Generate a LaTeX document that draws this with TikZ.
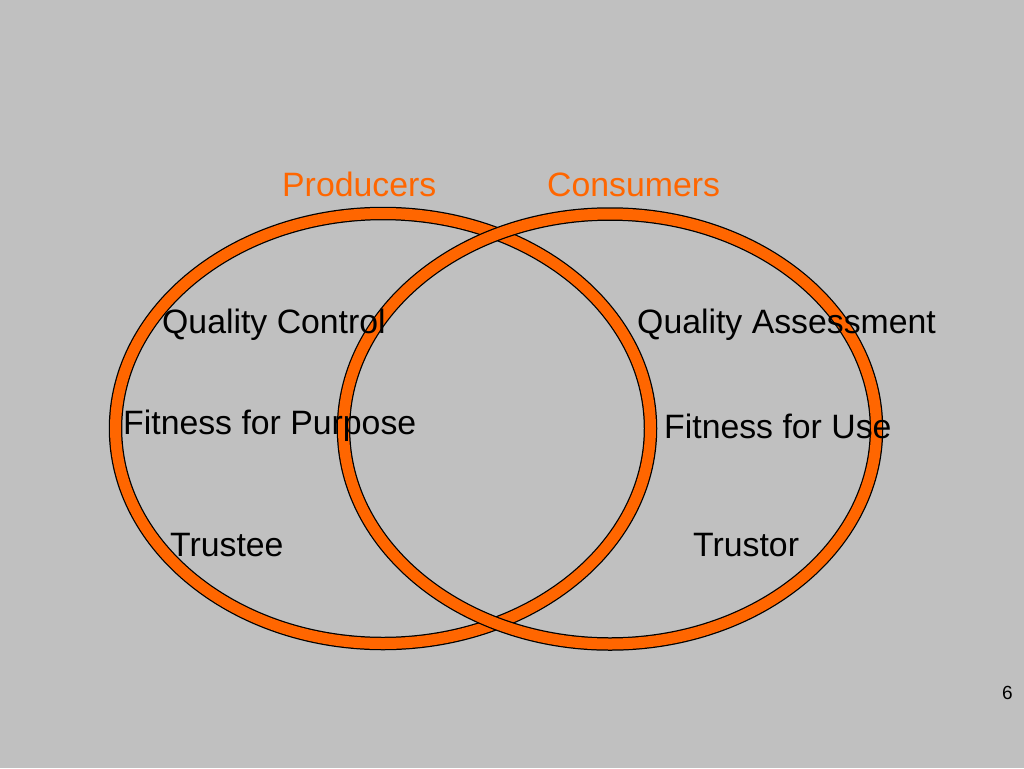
\documentclass[tikz,border=0pt]{standalone}
\usepackage{fontspec}
\setmainfont{Liberation Sans}
\definecolor{bg}{HTML}{C0C0C0}
\definecolor{ring}{HTML}{FF6600}
\begin{document}
\begin{tikzpicture}[x=1pt,y=-1pt,
  lbl/.style={anchor=base west,inner sep=0pt,font=\fontsize{33.8}{40}\selectfont},
  head/.style={lbl,text=ring},
  ringback/.style={draw=black,line width=13.5pt},
  ringfront/.style={draw=ring,line width=11pt}]
\fill[bg] (0,0) rectangle (1024,768);
\useasboundingbox (0,0) rectangle (1024,768);
% ellipse centres
\coordinate (cl) at (383,428.5);
\coordinate (cr) at (610,429);
\draw[ringback] (cl) ellipse [x radius=267.5pt, y radius=215pt];
\draw[ringfront] (cl) ellipse [x radius=267.5pt, y radius=215pt];
\draw[ringback] (cr) ellipse [x radius=266.5pt, y radius=215pt];
\draw[ringfront] (cr) ellipse [x radius=266.5pt, y radius=215pt];
% labels
\node[head] (prod) at (282,196) {Producers};
\node[head] (cons) at (547,196) {Consumers};
\node[lbl] (qc) at (162,333) {Quality Control};
\node[lbl] (qa) at (637,333) {Quality Assessment};
\node[lbl] (fp) at (123,434) {Fitness for Purpose};
\node[lbl] (fu) at (664,438) {Fitness for Use};
\node[lbl] (tee) at (170,556) {Trustee};
\node[lbl] (tor) at (693,556) {Trustor};
\node[anchor=base west,inner sep=0pt,font=\fontsize{19}{22}\selectfont] (pg) at (1002,699) {6};
\end{tikzpicture}
\end{document}
